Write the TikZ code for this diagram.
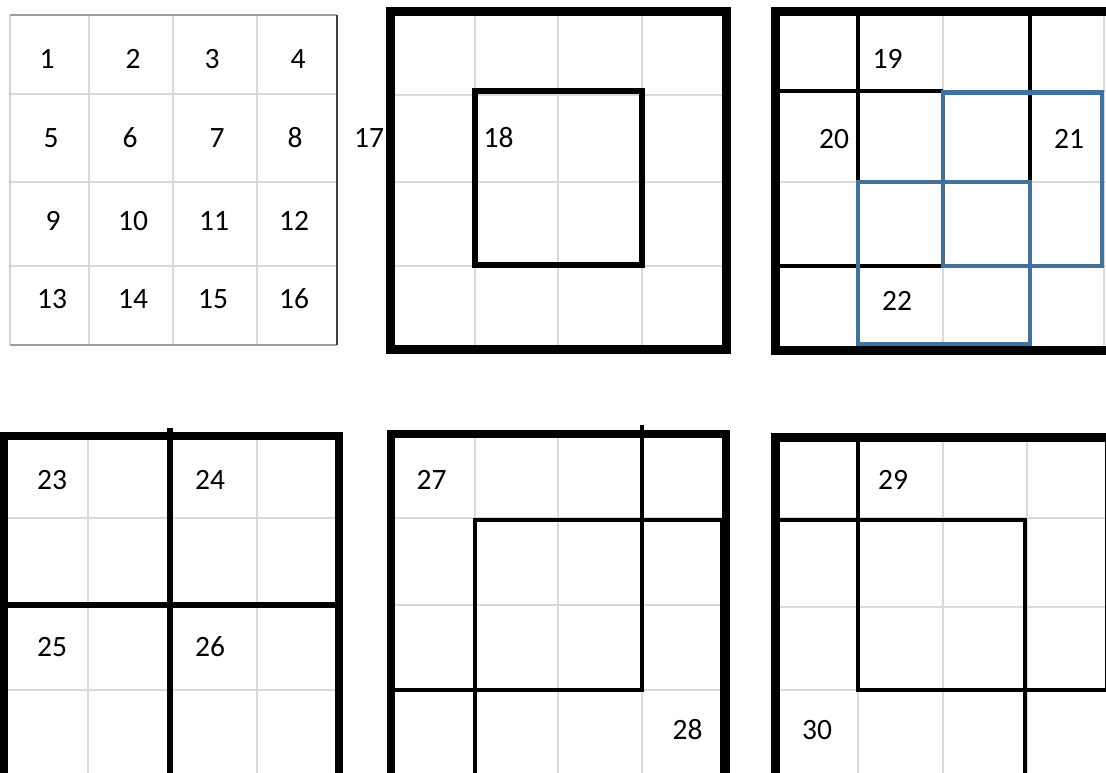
\documentclass[tikz,border=0pt]{standalone}
\usepackage{fontspec}
\setmainfont{Carlito}
\definecolor{gridgray}{HTML}{D9D9D9}
\definecolor{blueline}{HTML}{41719C}
\begin{document}
\begin{tikzpicture}[x=1pt,y=-1pt,
  gridline/.style={draw=gridgray,line width=2pt},
  outerbox/.style={draw=black,line width=9pt},
  inner/.style={draw=black,line width=4.5pt},
  blueedge/.style={draw=blueline,line width=4.2pt},
  lbl/.style={font=\fontsize{29.5}{31}\selectfont,inner sep=0pt}]
\useasboundingbox (0,0) rectangle (1106,773);
\clip (0,0) rectangle (1106,773);
\fill[white] (0,0) rectangle (1106,773);
% ---------- panel 1 ----------
\foreach \x in {89,173,257} \draw[gridline] (\x,15) -- (\x,345);
\foreach \y in {94,182,266} \draw[gridline] (10,\y) -- (337,\y);
\draw[draw=gray!35,line width=2pt] (10,15) -- (10,345);
\draw[draw=gray!75,line width=2pt] (10,15) -- (337,15);
\draw[draw=gray!75,line width=2pt] (10,345) -- (337,345);
\draw[draw=black!75,line width=2pt] (337,15) -- (337,345);
% ---------- panel 2 ----------
\foreach \x in {475,558,642} \draw[gridline] (\x,11) -- (\x,349);
\foreach \y in {95,182,266} \draw[gridline] (390,\y) -- (726,\y);
\draw[outerbox] (390,11.5) rectangle (726,349);
\draw[draw=black,line width=6pt] (474.5,91.5) rectangle (641.5,265);
% ---------- panel 3 ----------
\foreach \x in {858,943,1030,1104} \draw[gridline] (\x,12) -- (\x,349);
\foreach \y in {91,182,266} \draw[gridline] (775,\y) -- (1106,\y);
\draw[outerbox] (775,12) rectangle (1111,350);
\draw[inner,line width=4pt] (858,12) -- (858,182);
\draw[inner,line width=4pt] (1030,12) -- (1030,182);
\draw[inner,line width=4pt] (775,91) -- (943,91);
\draw[inner,line width=4pt] (775,266) -- (943,266);
\draw[blueedge] (943,92.5) rectangle (1102,266);
\draw[blueedge] (858,182) rectangle (1030,344);
% ---------- panel 4 ----------
\foreach \x in {88,257} \draw[gridline] (\x,436) -- (\x,773);
\foreach \y in {518,690} \draw[gridline] (4,\y) -- (339,\y);
\draw[outerbox,line width=8pt] (4,436) rectangle (339,780);
\draw[draw=black,line width=6pt] (170,428) -- (170,773);
\draw[draw=black,line width=6pt] (0,605) -- (339,605);
% ---------- panel 5 ----------
\foreach \x in {475,558,642} \draw[gridline] (\x,434) -- (\x,773);
\foreach \y in {518,605,690} \draw[gridline] (391,\y) -- (726,\y);
\draw[outerbox,line width=8pt] (391,434) rectangle (726,780);
\draw[inner] (642,425) -- (642,690) -- (391,690);
\draw[inner] (475,773) -- (475,520) -- (722,520) -- (722,773);
% ---------- panel 6 ----------
\foreach \x in {858,943,1027} \draw[gridline] (\x,437) -- (\x,773);
\foreach \y in {518,607,690} \draw[gridline] (775,\y) -- (1106,\y);
\draw[outerbox] (775,437) rectangle (1111,780);
\draw[inner] (858,437) rectangle (1107,690);
\draw[inner] (775,520) -- (1025,520) -- (1025,773);
% ---------- labels ----------
\node[lbl] (n1) at (47,59) {1};
\node[lbl] (n2) at (133,59) {2};
\node[lbl] (n3) at (212,59) {3};
\node[lbl] (n4) at (298,59) {4};
\node[lbl] (n5) at (51,138) {5};
\node[lbl] (n6) at (130,138) {6};
\node[lbl] (n7) at (217,138) {7};
\node[lbl] (n8) at (295,138) {8};
\node[lbl] (n9) at (53,221) {9};
\node[lbl] (n10) at (133,221) {10};
\node[lbl] (n11) at (214,221) {11};
\node[lbl] (n12) at (294,221) {12};
\node[lbl] (n13) at (52,299) {13};
\node[lbl] (n14) at (133,299) {14};
\node[lbl] (n15) at (213,299) {15};
\node[lbl] (n16) at (294,299) {16};
\node[lbl] (n17) at (369,138) {17};
\node[lbl] (n18) at (498.5,138) {18};
\node[lbl] (n19) at (887.5,58.5) {19};
\node[lbl] (n20) at (834,139) {20};
\node[lbl] (n21) at (1069,139) {21};
\node[lbl] (n22) at (897,301) {22};
\node[lbl] (n23) at (52,480) {23};
\node[lbl] (n24) at (210,480) {24};
\node[lbl] (n25) at (52,647) {25};
\node[lbl] (n26) at (210,647) {26};
\node[lbl] (n27) at (431.5,480) {27};
\node[lbl] (n28) at (687.5,730) {28};
\node[lbl] (n29) at (893,480) {29};
\node[lbl] (n30) at (817,730) {30};
\end{tikzpicture}
\end{document}
